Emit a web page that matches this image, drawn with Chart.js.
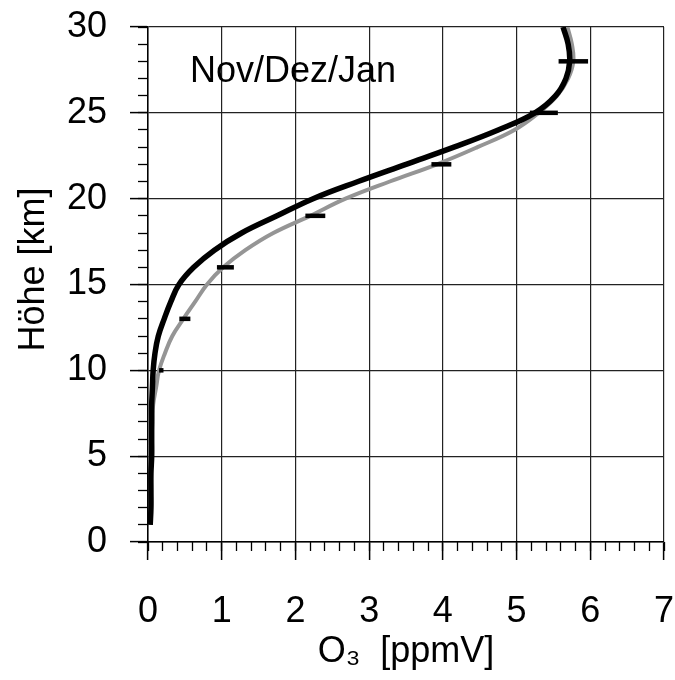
<!DOCTYPE html>
<html>
<head>
<meta charset="utf-8">
<script src="https://cdn.jsdelivr.net/npm/chart.js@4.4.1/dist/chart.umd.min.js"></script>
<style>
    html, body { margin: 0; padding: 0; background: #fff; }
    #wrap { width: 675px; height: 680px; }
</style>
</head>
<body>
<div id="wrap"><canvas id="ozon"></canvas></div>
<script>
// Höhe in km, Ozon in ppmV
const hoehe = [1, 2, 3, 4, 5, 6, 7, 8, 9, 10, 11, 12, 13, 14, 15, 16, 17, 18, 19, 20, 21, 22, 23, 24, 25, 26, 27, 28, 29, 30];
const o3_schwarz = [0.03, 0.04, 0.04, 0.04, 0.05, 0.05, 0.05, 0.05, 0.06, 0.07, 0.095, 0.14, 0.22, 0.31, 0.42, 0.62, 0.9, 1.27, 1.75, 2.24, 2.85, 3.5, 4.15, 4.75, 5.25, 5.53, 5.67, 5.72, 5.7, 5.63];
const o3_grau = [0.03, 0.04, 0.04, 0.04, 0.05, 0.05, 0.06, 0.07, 0.11, 0.15, 0.23, 0.33, 0.48, 0.64, 0.8, 1.02, 1.32, 1.7, 2.2, 2.68, 3.28, 3.92, 4.47, 4.97, 5.3, 5.55, 5.7, 5.77, 5.75, 5.69];

// Fehlerbalken
const fehler_hoehe = [10, 13, 16, 19, 22, 25, 28];
const fehler_mitte = [0.18, 0.5, 1.05, 2.27, 3.98, 5.37, 5.77];
const fehler_halb = [0.03, 0.075, 0.115, 0.135, 0.135, 0.19, 0.2];

const panel_text = 'Nov/Dez/Jan';
const panel_pos = [0.57, 26.8];

const font_family = '"Liberation Sans", Arial, Helvetica, sans-serif';

function toPoints(xs, ys) {
    return ys.map((y, i) => ({x: xs[i], y: y}));
}

const datasets = [
    {
        label: 'schwarz',
        data: toPoints(o3_schwarz, hoehe),
        borderColor: '#000',
        borderWidth: 5.5,
        pointRadius: 0,
        tension: 0.4,
        xAxisID: 'x',
        yAxisID: 'y'
    },
    {
        label: 'grau',
        data: toPoints(o3_grau, hoehe),
        borderColor: '#959595',
        borderWidth: 4,
        pointRadius: 0,
        tension: 0.4,
        xAxisID: 'x',
        yAxisID: 'y'
    }
];

fehler_hoehe.forEach((y, i) => {
    datasets.push({
        label: 'fehler' + i,
        data: [
            {x: fehler_mitte[i] - fehler_halb[i], y: y},
            {x: fehler_mitte[i] + fehler_halb[i], y: y}
        ],
        borderColor: '#000',
        borderWidth: 4.5,
        pointRadius: 0,
        order: -1,
        xAxisID: 'x',
        yAxisID: 'y'
    });
});

const panelLabel = {
    id: 'panelLabel',
    afterDatasetsDraw(chart) {
        const ctx = chart.ctx;
        const px = chart.scales.x.getPixelForValue(panel_pos[0]);
        const py = chart.scales.y.getPixelForValue(panel_pos[1]);
        ctx.save();
        ctx.font = '36px ' + font_family;
        ctx.fillStyle = '#000';
        ctx.textAlign = 'left';
        ctx.textBaseline = 'alphabetic';
        ctx.fillText(panel_text, px, py);
        ctx.restore();
    }
};

const tick_font = {family: font_family, size: 36};

// tick padding would otherwise widen the margins round the plot
function fitX(s) {
    s.height = 138;
    s.paddingLeft = 0;
    s.paddingRight = 0;
}

function fitY(s) {
    s.width = 148;
    s.paddingTop = 0;
    s.paddingBottom = 0;
}

new Chart(document.getElementById('ozon'), {
    type: 'line',
    data: {datasets: datasets},
    plugins: [panelLabel],
    options: {
        responsive: true,
        maintainAspectRatio: false,
        animation: false,
        layout: {padding: {left: 0, right: 11, top: 27, bottom: 0}},
        plugins: {
            legend: {display: false},
            tooltip: {enabled: false}
        },
        scales: {
            x: {
                type: 'linear',
                position: 'bottom',
                weight: 1,
                min: 0,
                max: 7,
                ticks: {stepSize: 1, color: '#000', font: tick_font, padding: 30, autoSkip: false, maxRotation: 0},
                grid: {color: '#222', lineWidth: 1.2, tickLength: 18, tickColor: '#000', tickWidth: 1.5},
                border: {color: '#000', width: 1.5},
                title: {display: true, text: 'O\u2083  [ppmV]', color: '#000', font: tick_font, padding: {top: 0, bottom: 6}},
                afterFit: fitX
            },
            x_minor: {
                type: 'linear',
                position: 'bottom',
                weight: 0,
                min: 0,
                max: 7,
                ticks: {stepSize: 0.2, display: false},
                grid: {drawOnChartArea: false, tickLength: 9, tickColor: '#000', tickWidth: 1.3},
                border: {display: false},
                afterFit: s => { s.height = 0; s.paddingLeft = 0; s.paddingRight = 0; }
            },
            y: {
                type: 'linear',
                position: 'left',
                weight: 1,
                min: 0,
                max: 30,
                ticks: {stepSize: 5, color: '#000', font: tick_font, padding: 23, autoSkip: false},
                grid: {color: '#222', lineWidth: 1.2, tickLength: 18, tickColor: '#000', tickWidth: 1.5},
                border: {color: '#000', width: 1.5},
                // leading spaces lift the title a little, as in the original
                title: {display: true, text: '   Höhe [km]', color: '#000', font: tick_font, padding: {top: 12, bottom: 0}},
                afterFit: fitY
            },
            y_minor: {
                type: 'linear',
                position: 'left',
                weight: 0,
                min: 0,
                max: 30,
                ticks: {stepSize: 1, display: false},
                grid: {drawOnChartArea: false, tickLength: 10, tickColor: '#000', tickWidth: 1.3},
                border: {display: false},
                afterFit: s => { s.width = 0; s.paddingTop = 0; s.paddingBottom = 0; }
            }
        }
    }
});
</script>
</body>
</html>
